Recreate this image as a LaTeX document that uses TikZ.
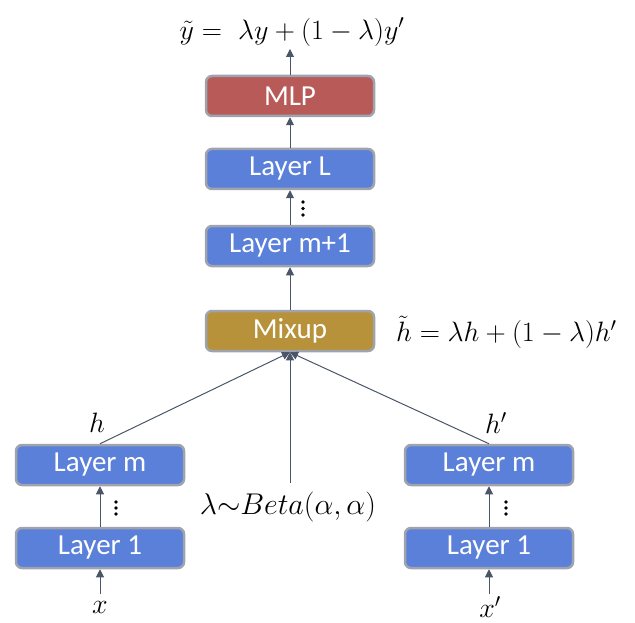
\RequirePackage{fix-cm}
\documentclass[tikz,border=0pt]{standalone}
\usepackage{fontspec}
\newfontfamily\boxfont{Carlito}
\usetikzlibrary{arrows.meta}
\definecolor{layerblue}{HTML}{5B80DA}
\definecolor{mlpred}{HTML}{B85B58}
\definecolor{mixgold}{HTML}{B8923A}
\definecolor{rim}{HTML}{9EA3AD}
\definecolor{arr}{HTML}{4A5568}
\tikzset{
  layerbox/.style={draw=rim, line width=2.5pt, rounded corners=6pt, fill=layerblue,
    minimum width=168pt, minimum height=40pt, inner sep=0pt,
    text=white, font=\boxfont\fontsize{29}{31}\selectfont},
  conn/.style={draw=arr, line width=1pt, -{Triangle[width=8pt,length=8pt]}},
  mathlbl/.style={font=\fontsize{28}{30}\selectfont, inner sep=0pt},
  dotmark/.style={fill=black}
}
\begin{document}
\begin{tikzpicture}[x=1pt,y=-1pt]
\useasboundingbox (0,0) rectangle (635,623);
% top chain
\node[layerbox, fill=mlpred] (mlp) at (290,96) {MLP};
\node[layerbox] (ll) at (290,169) {Layer L};
\node[layerbox] (lm1) at (290,246) {Layer m+1};
\node[layerbox, fill=mixgold] (mix) at (290,331) {Mixup};
% left
\node[layerbox] (lm) at (100,465) {Layer m};
\node[layerbox] (l1) at (100,548) {Layer 1};
% right
\node[layerbox] (rm) at (489,465) {Layer m};
\node[layerbox] (r1) at (489,548) {Layer 1};
% labels
\node[mathlbl] (ytil) at (292,32) {$\tilde{y} =\ \lambda y + (1-\lambda)y'$};
\node[mathlbl, anchor=west] (htil) at (396,332) {$\tilde{h} = \lambda h + (1-\lambda)h'$};
\node[mathlbl] (h) at (97,423) {$h$};
\node[mathlbl] (hp) at (496,423) {$h'$};
\node[mathlbl, font=\fontsize{30}{32}\selectfont] (beta) at (288,507) {$\lambda{\sim}Beta(\alpha,\alpha)$};
\node[mathlbl] (x) at (100,607) {$x$};
\node[mathlbl] (xp) at (490,607) {$x'$};
\coordinate (ytop) at (290,49);
\coordinate (betatop) at (290,483);
\coordinate (xtop) at (100,594);
\coordinate (xptop) at (489,594);
% dots
\foreach \yy in {202,208.5,215} \fill[dotmark] (303,\yy) circle (1.8pt);
\foreach \yy in {502,508,514} {
  \fill[dotmark] (116,\yy) circle (1.8pt);
  \fill[dotmark] (506,\yy) circle (1.8pt);
}
% connectors
\draw[conn] (mlp.north) -- (ytop);
\draw[conn] (ll.north) -- (mlp.south);
\draw[conn] (lm1.north) -- (ll.south);
\draw[conn] (mix.north) -- (lm1.south);
\draw[conn] (lm.north) -- (mix.south);
\draw[conn] (rm.north) -- (mix.south);
\draw[conn] (betatop) -- (mix.south);
\draw[conn] (l1.north) -- (lm.south);
\draw[conn] (r1.north) -- (rm.south);
\draw[conn] (xtop) -- (l1.south);
\draw[conn] (xptop) -- (r1.south);
\end{tikzpicture}
\end{document}
